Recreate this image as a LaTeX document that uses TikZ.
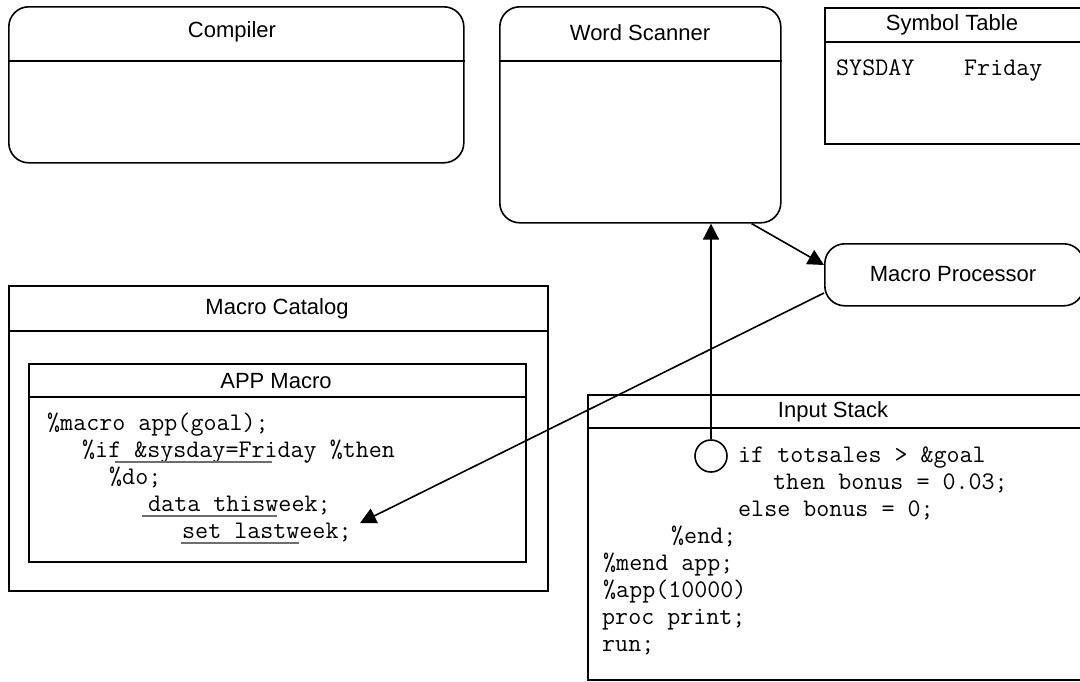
\documentclass[tikz,border=0pt]{standalone}
\usepackage{fontspec}
\setmainfont{Liberation Sans}
\usetikzlibrary{arrows.meta,calc}
\definecolor{ulgray}{HTML}{6E6E6E}
\begin{document}
\begin{tikzpicture}[x=1pt,y=-1pt,
  panel/.style={draw=black, line width=1.6pt, fill=white, inner sep=0pt, anchor=north west},
  roundpanel/.style={panel, rounded corners=20pt},
  rule/.style={draw=black, line width=1.6pt},
  title/.style={font=\fontsize{22}{26}\selectfont, inner sep=0pt},
  code/.style={font=\ttfamily\fontsize{25.3}{28}\selectfont, anchor=base west, inner sep=0pt},
  uline/.style={draw=ulgray, line width=1.4pt},
  conn/.style={draw=black, line width=1.6pt, -{Triangle[length=16pt,width=16pt]}},
  port/.style={circle, draw=black, line width=1.6pt, fill=white, minimum size=32pt, inner sep=0pt}]
\useasboundingbox (0,0) rectangle (1080,681);
\clip (0,0) rectangle (1080,681);
\fill[white] (0,0) rectangle (1080,681);

% Compiler
\node[roundpanel, minimum width=455pt, minimum height=156pt] (comp) at (8,6) {};
\draw[rule] ($(comp.north west)+(0,55)$) -- ($(comp.north east)+(0,55)$);
\node[title] (compT) at (232,32) {Compiler};

% Word Scanner
\node[roundpanel, minimum width=281pt, minimum height=216pt] (ws) at (499,6) {};
\draw[rule] ($(ws.north west)+(0,55)$) -- ($(ws.north east)+(0,55)$);
\node[title] (wsT) at (640,33) {Word Scanner};

% Symbol Table
\node[panel, minimum width=258pt, minimum height=136pt] (sym) at (824,7) {};
\draw[rule] ($(sym.north west)+(0,35)$) -- ($(sym.north east)+(0,35)$);
\node[title] (symT) at (952,25) {Symbol Table};
\node[code] (symName) at (836,75) {SYSDAY};
\node[code] (symVal) at (964,75) {Friday};

% Macro Processor
\node[roundpanel, minimum width=259pt, minimum height=62pt] (mp) at (824,243) {};
\node[title] (mpT) at (953,274) {Macro Processor};

% Macro Catalog with the APP macro inside
\node[panel, minimum width=539pt, minimum height=305pt] (cat) at (8,285) {};
\draw[rule] ($(cat.north west)+(0,46)$) -- ($(cat.north east)+(0,46)$);
\node[title] (catT) at (277,309) {Macro Catalog};

\node[panel, minimum width=497pt, minimum height=198pt] (app) at (28,363) {};
\draw[rule] ($(app.north west)+(0,34)$) -- ($(app.north east)+(0,34)$);
\node[title] (appT) at (276,381) {APP Macro};

\node[code] (a1) at (47,430)  {\%macro app(goal);};
\node[code] (a2) at (82,457)  {\%if \&sysday=Friday \%then};
\node[code] (a3) at (109,484) {\%do;};
\node[code] (a4) at (148,511) {data thisweek;};
\node[code] (a5) at (182,538) {set lastweek;};
\draw[uline] (115,462) -- (272,462);
\draw[uline] (142,516) -- (277,516);
\draw[uline] (181,543) -- (299,543);

% Input Stack
\node[panel, minimum width=495pt, minimum height=285pt] (stk) at (587,394) {};
\draw[rule] ($(stk.north west)+(0,34)$) -- ($(stk.north east)+(0,34)$);
\node[title] (stkT) at (833,412) {Input Stack};

\node[code] (s1) at (738,462) {if totsales > \&goal};
\node[code] (s2) at (773,489) {then bonus = 0.03;};
\node[code] (s3) at (738,516) {else bonus = 0;};
\node[code] (s4) at (671,543) {\%end;};
\node[code] (s5) at (603,570) {\%mend app;};
\node[code] (s6) at (603,597) {\%app(10000)};
\node[code] (s7) at (602,624) {proc print;};
\node[code] (s8) at (602,651) {run;};

\node[port] (circ) at (711,456) {};

% Connectors
\coordinate (tip) at (360,523);
\draw[conn] ([xshift=-30pt]ws.south east) -- ([yshift=-22pt]mp.north west);
\draw[conn] (circ.north) -- (circ.north |- ws.south);
\draw[conn] ([yshift=-50pt]mp.north west) -- (tip);
\end{tikzpicture}
\end{document}
